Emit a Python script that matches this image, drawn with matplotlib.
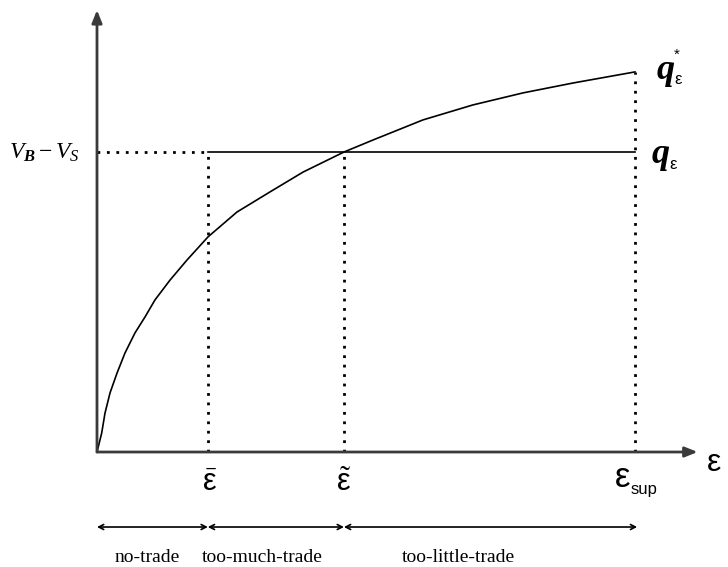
import matplotlib
matplotlib.use("Agg")
import matplotlib.pyplot as plt

plt.rcParams['mathtext.fontset'] = 'custom'
plt.rcParams['mathtext.rm'] = 'Liberation Serif'
plt.rcParams['mathtext.it'] = 'Liberation Serif:italic'
plt.rcParams['mathtext.bf'] = 'Liberation Serif:italic:bold'
plt.rcParams['mathtext.sf'] = 'Liberation Sans'

# ---- data (epsilon scaled so eps_sup = 1, q scaled so V_B - V_S = 1) ----
eps_curve = [0.0, 0.0087, 0.0149, 0.0242, 0.0372, 0.0520, 0.0706, 0.0892,
             0.1078, 0.1357, 0.1673, 0.2063, 0.2602, 0.3216, 0.3829, 0.4591,
             0.5130, 0.6059, 0.6989, 0.7918, 0.8848, 1.0]
q_star = [0.0, 0.063, 0.130, 0.197, 0.263, 0.330, 0.397, 0.450,
          0.507, 0.573, 0.640, 0.717, 0.800, 0.867, 0.933, 1.0,
          1.040, 1.107, 1.157, 1.197, 1.230, 1.267]
eps_bar = 0.206
eps_tilde = 0.459
eps_sup = 1.0
q_level = 1.0           # V_B - V_S
regions = ["no-trade", "too-much-trade", "too-little-trade"]

fig = plt.figure(figsize=(7.28, 5.67), dpi=100)
ax = fig.add_axes([0, 0, 1, 1])
ax.set_xlim(-0.1803, 1.1729)
ax.set_ylim(-0.3833, 1.5067)
ax.axis('off')

axis_col = '#3a3a3a'
# axes arrows
ax.annotate('', xy=(1.1165, 0), xytext=(0, 0),
            arrowprops=dict(arrowstyle='-|>,head_length=0.75,head_width=0.3',
                            color=axis_col, lw=2, shrinkA=0, shrinkB=0))
ax.annotate('', xy=(0, 1.4733), xytext=(0, 0),
            arrowprops=dict(arrowstyle='-|>,head_length=0.75,head_width=0.3',
                            color=axis_col, lw=2, shrinkA=0, shrinkB=0))

# curve q*
ax.plot(eps_curve, q_star, color='black', lw=1.2, solid_joinstyle='round')
# horizontal q line
ax.plot([eps_bar, eps_sup], [q_level, q_level], color='black', lw=1.2)
dot = (0, (1, 2.4))
ax.plot([0, eps_bar], [q_level, q_level], color='black', lw=2, linestyle=dot)
ax.plot([eps_bar, eps_bar], [0, q_level], color='black', lw=2, linestyle=dot)
ax.plot([eps_tilde, eps_tilde], [0, q_level], color='black', lw=2, linestyle=dot)
ax.plot([eps_sup, eps_sup], [0, q_star[-1]], color='black', lw=2, linestyle=dot)

# labels
ax.text(-0.0316, q_level, r'$V_{\mathbf{B}}-V_{S}$', fontsize=17,
        ha='right', va='center')
# q* label
ax.text(1.04, 1.273, 'q', fontsize=26, family='Liberation Serif',
        style='italic', weight='bold', ha='left', va='center')
ax.text(1.073, 1.243, 'ε', fontsize=12, family='Liberation Sans',
        ha='left', va='center')
ax.text(1.073, 1.325, '*', fontsize=11, family='Liberation Sans',
        ha='left', va='center')
# q label
ax.text(1.031, 0.993, 'q', fontsize=26, family='Liberation Serif',
        style='italic', weight='bold', ha='left', va='center')
ax.text(1.064, 0.96, 'ε', fontsize=12, family='Liberation Sans',
        ha='left', va='center')

ax.text(1.133, -0.037, 'ε', fontsize=23, family='Liberation Sans',
        ha='left', va='center')
ax.text(eps_bar + 0.003, -0.10, r'$\bar{\mathsf{ε}}$', fontsize=22,
        ha='center', va='center')
ax.text(eps_tilde, -0.10, r'$\tilde{\mathsf{ε}}$', fontsize=22,
        ha='center', va='center')
ax.text(0.9777, -0.085, 'ε', fontsize=25, family='Liberation Sans',
        ha='center', va='center')
ax.text(0.9926, -0.125, 'sup', fontsize=12, family='Liberation Sans',
        ha='left', va='center')

# region arrows
y_arr = -0.25
bounds = [0.0, eps_bar, eps_tilde, 1.004]
for a, b in zip(bounds[:-1], bounds[1:]):
    ax.annotate('', xy=(b, y_arr), xytext=(a, y_arr),
                arrowprops=dict(arrowstyle='<->,head_length=0.35,head_width=0.18',
                                color='black', lw=1.2, shrinkA=0, shrinkB=0))
label_x = [0.094, 0.3076, 0.672]
for lx, lab in zip(label_x, regions):
    ax.text(lx, -0.35, lab, fontsize=14, family='Liberation Serif',
            ha='center', va='center')

fig.savefig('out.png', dpi=100)
